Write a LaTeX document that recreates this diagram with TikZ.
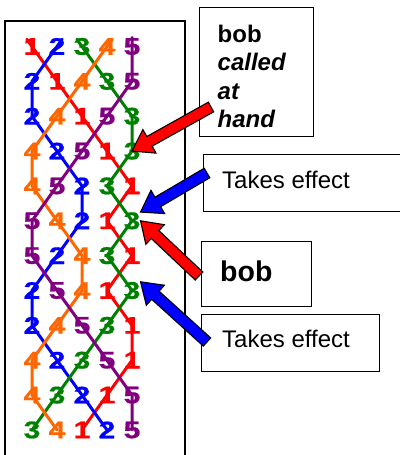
\documentclass[tikz,border=0pt]{standalone}
\usepackage{fontspec}
\setmainfont{Liberation Sans}
\newfontfamily\bellfont[FakeStretch=1.25, FakeBold=0.8]{Liberation Sans}
\usetikzlibrary{calc}
\definecolor{bell1}{RGB}{255,0,0}
\definecolor{bell2}{RGB}{0,0,255}
\definecolor{bell3}{RGB}{0,128,0}
\definecolor{bell4}{RGB}{255,102,0}
\definecolor{bell5}{RGB}{128,0,128}
%block arrow from #2 (tail) to #3 (tip)
\newcommand{\bigarrow}[3]{%
	\coordinate (ha) at ($(#3)!20pt!(#2)$);
	\draw[fill=#1, line width=1.1pt, line join=miter]
		($(#2)!5.5pt!90:(#3)$) -- ($(ha)!5.5pt!90:(#3)$) -- ($(ha)!13.5pt!90:(#3)$) -- (#3)
		-- ($(ha)!13.5pt!-90:(#3)$) -- ($(ha)!5.5pt!-90:(#3)$) -- ($(#2)!5.5pt!-90:(#3)$) -- cycle;
}

\begin{document}
\begin{tikzpicture}[x=1pt,y=-1pt,
		digit/.style={font=\bellfont\bfseries\fontsize{24}{28}\selectfont, inner sep=0pt},
		rope/.style={line width=3pt, line join=round, line cap=round},
		card/.style={draw, line width=1.2pt, anchor=north west, inner sep=0pt},
		say/.style={anchor=base west, inner sep=0pt, font=\fontsize{24}{28.5}\selectfont}]
		\useasboundingbox (0,0) rectangle (399,455);
		%frame round the rows
		\draw[line width=2pt] (4.5,470) -- (4.5,21) -- (185.3,21) -- (185.3,470);
		%rows of changes
		\foreach \row [count=\rr] in {{1,2,3,4,5},{2,1,4,3,5},{2,4,1,5,3},{4,2,5,1,3},{4,5,2,3,1},{5,4,2,1,3},
			{5,2,4,3,1},{2,5,4,1,3},{2,4,5,3,1},{4,2,3,5,1},{4,3,2,1,5},{3,4,1,2,5}}{
			\foreach \b [count=\cc] in \row{
				\node[digit, text=bell\b] (b\b-\rr) at (7+25*\cc, 11.64+34.86*\rr) {\b};
			}}
		%path of each bell
		\foreach \b in {1,...,5}{
			\draw[rope, bell\b, shorten <=-9pt] (b\b-1.center) \foreach \rr in {2,...,12}{ -- (b\b-\rr.center)};
		}
		%boxes
		\node[card, minimum width=114, minimum height=129] (callbox) at (199,7) {};
		\node[say, align=left, anchor=north west] (calltext) at (217.5,24.5)
			{\textbf{bob}\\ \textbf{\textit{called}}\\ \textbf{\textit{at}}\\ \textbf{\textit{hand}}};
		\node[card, minimum width=210, minimum height=57] (effectbox) at (203,154) {};
		\node[say] (effecttext) at (222,188) {Takes effect};
		\node[card, minimum width=110, minimum height=65] (bobbox) at (201,241) {};
		\node[say, font=\bfseries\fontsize{28.5}{34}\selectfont] (bobtext) at (220,281) {bob};
		\node[card, minimum width=178, minimum height=57] (againbox) at (201,314) {};
		\node[say] (againtext) at (222,347) {Takes effect};
		%arrows
		\coordinate (tail1) at (211,107);
		\coordinate (tail2) at (207,173);
		\coordinate (tail3) at (199,276);
		\coordinate (tail4) at (207,342);
		\bigarrow{bell1}{tail1}{b3-4.center}
		\bigarrow{bell2}{tail2}{b3-6.north east}
		\bigarrow{bell1}{tail3}{b3-6.east}
		\bigarrow{bell2}{tail4}{b3-8.north east}
\end{tikzpicture}
\end{document}
